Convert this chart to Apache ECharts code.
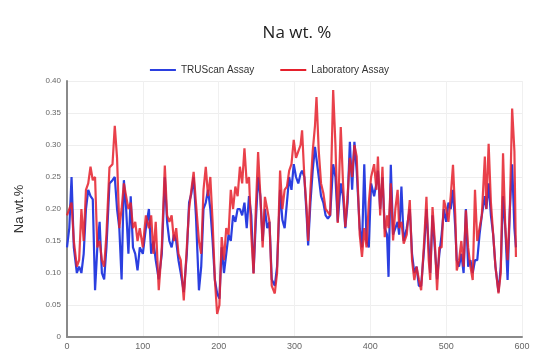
<!DOCTYPE html>
<html>
<head>
<meta charset="utf-8">
<script src="https://cdn.jsdelivr.net/npm/echarts@6/dist/echarts.min.js"></script>
<style>html,body{margin:0;padding:0;background:#fff}#c{width:539px;height:357px}</style>
</head>
<body>
<div id="c"></div>
<script>
const titleText = 'Na wt. %';
const seriesNames = ['TRUScan Assay', 'Laboratory Assay'];
const yTicks = [0, 0.05, 0.10, 0.15, 0.20, 0.25, 0.30, 0.35, 0.40];
const xTicks = [0, 100, 200, 300, 400, 500, 600];

const sampleNo = [0,3,6,9,13,16,19,22,25,28,31,34,37,40,43,46,49,52,56,60,63,66,69,72,75,78,81,84,87,90,93,96,100,104,108,111,114,117,121,125,129,132,135,138,141,144,147,150,154,158,161,164,167,170,174,177,180,183,186,189,192,195,198,201,204,207,210,213,216,219,222,225,228,231,234,237,240,243,246,249,252,255,258,261,264,267,270,274,277,281,284,287,290,293,296,299,302,305,308,310,313,316,318,321,324,327,329,332,335,338,341,344,347,351,354,357,361,364,367,370,373,376,379,382,386,389,392,395,398,401,405,408,410,413,416,419,422,424,427,430,433,436,438,441,444,448,452,455,458,461,464,467,471,474,477,479,482,485,488,491,494,497,500,503,506,509,512,514,517,520,523,526,529,532,535,538,541,544,547,551,553,556,559,562,565,569,572,575,578,581,584,587,590,592];

const labAssay = [0.19,0.20,0.21,0.15,0.11,0.12,0.20,0.15,0.23,0.24,0.266,0.245,0.25,0.14,0.15,0.12,0.11,0.16,0.265,0.27,0.33,0.28,0.17,0.20,0.24,0.22,0.20,0.21,0.17,0.18,0.15,0.17,0.14,0.19,0.17,0.19,0.13,0.18,0.073,0.14,0.268,0.19,0.18,0.19,0.15,0.17,0.13,0.12,0.057,0.14,0.20,0.23,0.258,0.21,0.15,0.13,0.23,0.266,0.22,0.25,0.18,0.09,0.036,0.05,0.156,0.12,0.17,0.16,0.23,0.20,0.235,0.22,0.266,0.24,0.295,0.24,0.25,0.16,0.099,0.20,0.289,0.22,0.14,0.219,0.20,0.18,0.08,0.068,0.10,0.26,0.20,0.23,0.235,0.26,0.27,0.308,0.28,0.29,0.30,0.323,0.25,0.20,0.15,0.23,0.29,0.33,0.375,0.29,0.24,0.225,0.20,0.195,0.19,0.386,0.30,0.178,0.328,0.24,0.172,0.22,0.28,0.25,0.30,0.282,0.16,0.125,0.17,0.14,0.21,0.25,0.27,0.23,0.282,0.19,0.266,0.156,0.19,0.17,0.24,0.151,0.20,0.23,0.17,0.18,0.146,0.16,0.214,0.12,0.089,0.11,0.09,0.073,0.15,0.219,0.12,0.089,0.203,0.15,0.073,0.14,0.14,0.214,0.20,0.18,0.22,0.269,0.19,0.104,0.12,0.15,0.11,0.198,0.14,0.11,0.089,0.23,0.15,0.17,0.19,0.282,0.20,0.302,0.21,0.16,0.11,0.068,0.10,0.287,0.17,0.12,0.20,0.357,0.29,0.125];

const truscanAssay = [0.14,0.17,0.25,0.14,0.10,0.11,0.10,0.13,0.20,0.23,0.22,0.215,0.073,0.14,0.18,0.10,0.09,0.14,0.24,0.245,0.25,0.20,0.17,0.09,0.245,0.20,0.13,0.22,0.14,0.13,0.104,0.14,0.13,0.17,0.20,0.13,0.15,0.12,0.09,0.13,0.25,0.18,0.15,0.14,0.16,0.15,0.12,0.10,0.07,0.13,0.21,0.224,0.25,0.19,0.073,0.11,0.20,0.21,0.23,0.20,0.15,0.089,0.068,0.06,0.14,0.10,0.13,0.16,0.15,0.19,0.18,0.20,0.20,0.19,0.21,0.17,0.22,0.19,0.10,0.18,0.25,0.22,0.15,0.20,0.17,0.18,0.09,0.08,0.11,0.23,0.183,0.17,0.21,0.25,0.23,0.27,0.25,0.24,0.255,0.26,0.25,0.19,0.143,0.21,0.26,0.297,0.30,0.25,0.22,0.21,0.19,0.185,0.19,0.27,0.25,0.18,0.24,0.22,0.17,0.21,0.305,0.23,0.305,0.26,0.17,0.14,0.27,0.15,0.14,0.24,0.22,0.24,0.26,0.20,0.25,0.17,0.16,0.094,0.269,0.16,0.17,0.18,0.16,0.235,0.15,0.17,0.20,0.13,0.10,0.11,0.08,0.08,0.14,0.20,0.14,0.10,0.19,0.14,0.09,0.13,0.16,0.20,0.18,0.21,0.20,0.23,0.17,0.12,0.11,0.13,0.10,0.20,0.11,0.12,0.10,0.12,0.12,0.16,0.19,0.22,0.20,0.24,0.19,0.16,0.11,0.07,0.11,0.22,0.17,0.089,0.20,0.27,0.17,0.14];

const chart = echarts.init(document.getElementById('c'), null, {renderer: 'canvas'});
const pair = (ys) => sampleNo.map((x, i) => [x, ys[i]]);
chart.setOption({
  animation: false,
  backgroundColor: '#ffffff',
  title: {
    text: titleText, left: 292, top: 20, textAlign: 'center',
    textStyle: {fontFamily: 'Open Sans', fontSize: 17, fontWeight: 'normal', color: '#222'}
  },
  legend: {
    top: 60, left: 'center', icon: 'rect', itemWidth: 26, itemHeight: 2, itemGap: 26,
    textStyle: {fontFamily: 'Liberation Sans', fontSize: 10, color: '#333'},
    data: seriesNames
  },
  grid: {left: 67, right: 17, top: 81, bottom: 20, containLabel: false},
  xAxis: {
    type: 'value', min: 0, max: 600, interval: 100,
    axisLine: {show: true, lineStyle: {color: '#8a8a8a', width: 2}},
    axisTick: {show: false},
    axisLabel: {fontFamily: 'Liberation Sans', fontSize: 9, color: '#666', margin: 5,
      formatter: (v) => xTicks.includes(v) ? String(v) : ''},
    splitLine: {show: true, lineStyle: {color: '#f0f0f0', width: 1}}
  },
  yAxis: {
    type: 'value', min: 0, max: 0.40, interval: 0.05,
    name: 'Na wt.%', nameLocation: 'middle', nameGap: 41, nameRotate: 90,
    nameTextStyle: {fontFamily: 'Liberation Sans', fontSize: 13, color: '#333'},
    axisLine: {show: true, lineStyle: {color: '#8a8a8a', width: 2}},
    axisTick: {show: false},
    axisLabel: {fontFamily: 'Liberation Sans', fontSize: 8, color: '#666', margin: 6,
      formatter: (v) => { const t = yTicks.find(k => Math.abs(k - v) < 1e-9); return t === undefined ? '' : (t === 0 ? '0' : t.toFixed(2)); }},
    splitLine: {show: true, lineStyle: {color: '#eeeeee', width: 1}}
  },
  series: [
    {name: seriesNames[0], type: 'line', data: pair(truscanAssay), showSymbol: false, symbol: 'none',
      lineStyle: {color: '#2b3fe0', width: 2.2}, itemStyle: {color: '#2b3fe0'}, z: 2},
    {name: seriesNames[1], type: 'line', data: pair(labAssay), showSymbol: false, symbol: 'none',
      lineStyle: {color: '#e5202c', width: 2.2, opacity: 0.85}, itemStyle: {color: '#e5202c'}, z: 3}
  ]
});
</script>
</body>
</html>
